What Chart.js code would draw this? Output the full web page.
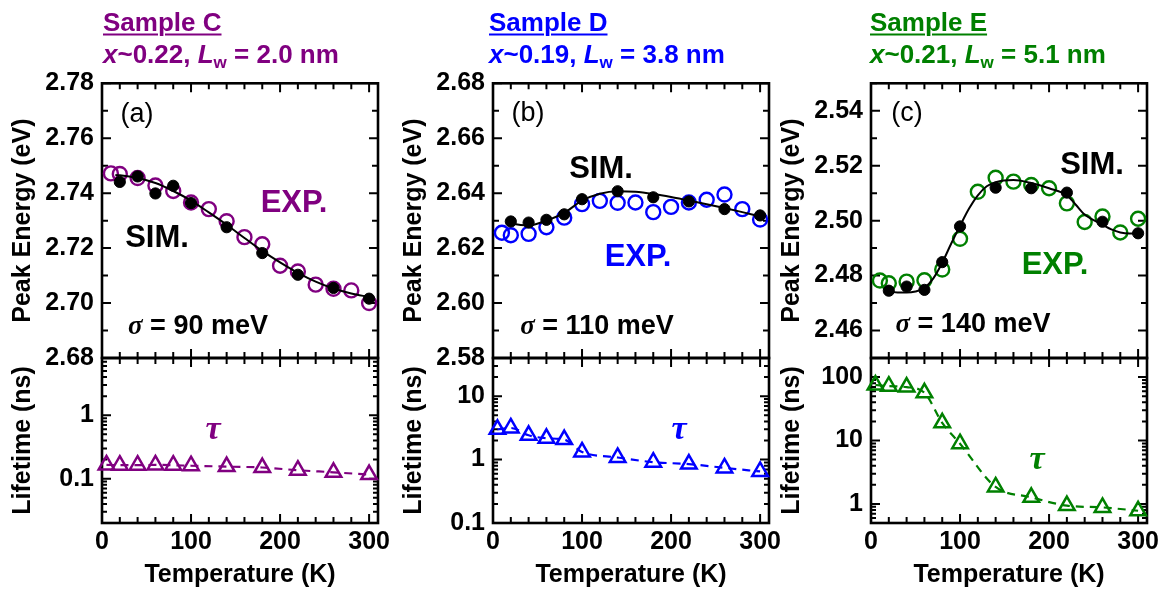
<!DOCTYPE html>
<html>
<head>
<meta charset="utf-8">
<script src="https://cdn.jsdelivr.net/npm/chart.js@4.4.1/dist/chart.umd.min.js"></script>
<style>
  html, body { margin: 0; padding: 0; background: #fff; overflow: hidden; }
  #fig { position: relative; width: 1167px; height: 593px; overflow: hidden; background: #fff; }
  #fig canvas { position: absolute; top: 0; }
  .ttl { position: absolute; transform: translateY(-50%); white-space: nowrap; line-height: 1;
         font: bold 26px "Liberation Sans", Arial, sans-serif; }
  .ttl.u { text-decoration: underline; text-decoration-thickness: 2px; text-underline-offset: 3px; }
  .ttl sub { font-size: 17px; vertical-align: -5px; font-style: normal; line-height: 0; }
  .lbl { position: absolute; transform: translate(-50%, -50%); white-space: nowrap; line-height: 1;
         font-family: "Liberation Sans", Arial, sans-serif; }
  .pan { font-size: 27px; font-weight: normal; color: #000; }
  .big { font-size: 31px; font-weight: bold; }
  .sig { font-size: 27px; font-weight: bold; color: #000; }
  .greek { font-family: "Liberation Serif", "DejaVu Serif", serif; font-style: italic; font-weight: bold; }
  .tau { font-family: "Liberation Serif", "DejaVu Serif", serif; font-style: italic; font-weight: bold; font-size: 34px; }
</style>
</head>
<body>
<div id="fig">
  <canvas id="topC" width="410" height="593"></canvas>
  <canvas id="botC" width="410" height="593"></canvas>
  <canvas id="topD" width="410" height="593"></canvas>
  <canvas id="botD" width="410" height="593"></canvas>
  <canvas id="topE" width="410" height="593"></canvas>
  <canvas id="botE" width="410" height="593"></canvas>

  <!-- sample headers -->
  <div class="ttl u" style="left:103px;top:22px;color:#800080">Sample C</div>
  <div class="ttl" style="left:103px;top:54px;color:#800080"><i>x</i>~0.22, <i>L</i><sub>w</sub> = 2.0 nm</div>
  <div class="ttl u" style="left:489px;top:22px;color:#0000ff">Sample D</div>
  <div class="ttl" style="left:489px;top:54px;color:#0000ff"><i>x</i>~0.19, <i>L</i><sub>w</sub> = 3.8 nm</div>
  <div class="ttl u" style="left:870px;top:22px;color:#008000">Sample E</div>
  <div class="ttl" style="left:870px;top:54px;color:#008000"><i>x</i>~0.21, <i>L</i><sub>w</sub> = 5.1 nm</div>

  <!-- panel (a) annotations -->
  <div class="lbl pan" style="left:137px;top:113px">(a)</div>
  <div class="lbl big" style="left:157px;top:236px;color:#000">SIM.</div>
  <div class="lbl big" style="left:294px;top:201px;color:#800080">EXP.</div>
  <div class="lbl sig" style="left:198px;top:325px"><span class="greek">σ</span> = 90 meV</div>
  <div class="lbl tau" style="left:213px;top:428px;color:#800080">τ</div>

  <!-- panel (b) annotations -->
  <div class="lbl pan" style="left:528px;top:112px">(b)</div>
  <div class="lbl big" style="left:601px;top:167px;color:#000">SIM.</div>
  <div class="lbl big" style="left:638px;top:255px;color:#0000ff">EXP.</div>
  <div class="lbl sig" style="left:597px;top:325px"><span class="greek">σ</span> = 110 meV</div>
  <div class="lbl tau" style="left:679px;top:428px;color:#0000ff">τ</div>

  <!-- panel (c) annotations -->
  <div class="lbl pan" style="left:907px;top:112px">(c)</div>
  <div class="lbl big" style="left:1092px;top:163px;color:#000">SIM.</div>
  <div class="lbl big" style="left:1055px;top:263px;color:#008000">EXP.</div>
  <div class="lbl sig" style="left:973px;top:323px"><span class="greek">σ</span> = 140 meV</div>
  <div class="lbl tau" style="left:1037px;top:458px;color:#008000">τ</div>
</div>

<script>
// ---- temperatures (K) ----
const tempExp  = [10, 20, 40, 60, 80, 100, 120, 140, 160, 180, 200, 220, 240, 260, 280, 300];
const tempSim  = [20, 40, 60, 80, 100, 140, 180, 220, 260, 300];
const tempLife = [5, 20, 40, 60, 80, 100, 140, 180, 220, 260, 300];
const tempFitCD = [15, 20, 40, 60, 80, 100, 120, 140, 160, 180, 200, 220, 240, 260, 280, 300];
const tempFitE  = [15, 20, 30, 40, 50, 60, 70, 80, 90, 100, 110, 120, 130, 140, 160, 180, 200, 220, 230, 240, 250, 260, 270, 280, 290, 300];

// ---- sample C: peak energy (eV) and lifetime (ns) ----
const expC  = [2.7472, 2.7470, 2.7455, 2.7428, 2.7408, 2.7366, 2.7342, 2.7298, 2.7240, 2.7214, 2.7136, 2.7115, 2.7067, 2.7052, 2.7046, 2.7000];
const simC  = [2.7441, 2.7461, 2.7399, 2.7427, 2.7364, 2.7276, 2.7182, 2.7103, 2.7055, 2.7016];
const fitC  = [2.7466, 2.7465, 2.7455, 2.7437, 2.7408, 2.7373, 2.7330, 2.7285, 2.7237, 2.7190, 2.7148, 2.7110, 2.7078, 2.7053, 2.7035, 2.7022];
const lifeC = [0.165, 0.163, 0.163, 0.165, 0.163, 0.160, 0.155, 0.150, 0.136, 0.126, 0.116];

// ---- sample D ----
const expD  = [2.6256, 2.6247, 2.6252, 2.6276, 2.6311, 2.6360, 2.6372, 2.6365, 2.6366, 2.6331, 2.6350, 2.6366, 2.6376, 2.6395, 2.6342, 2.6304];
const simD  = [2.6297, 2.6293, 2.6303, 2.6323, 2.6378, 2.6407, 2.6385, 2.6370, 2.6342, 2.6319];
const fitD  = [2.6294, 2.6290, 2.6283, 2.6300, 2.6328, 2.6373, 2.6398, 2.6407, 2.6405, 2.6397, 2.6386, 2.6373, 2.6360, 2.6346, 2.6331, 2.6315];
const lifeD = [3.0, 3.15, 2.42, 2.17, 2.07, 1.32, 1.08, 0.91, 0.85, 0.74, 0.65];

// ---- sample E ----
const expE  = [2.4782, 2.4772, 2.4778, 2.4783, 2.4822, 2.4934, 2.5105, 2.5156, 2.5142, 2.5130, 2.5118, 2.5063, 2.4995, 2.5015, 2.4957, 2.5007];
const simE  = [2.4745, 2.4760, 2.4748, 2.4849, 2.4979, 2.5120, 2.5118, 2.5102, 2.4996, 2.4954];
const fitE  = [2.4755, 2.4745, 2.4738, 2.4738, 2.4742, 2.4755, 2.4790, 2.4847, 2.4916, 2.4981, 2.5043, 2.5092, 2.5125, 2.5140, 2.5148, 2.5137, 2.5118, 2.5092, 2.5058, 2.5022, 2.5002, 2.4985, 2.4968, 2.4957, 2.4953, 2.4955];
const lifeE = [75, 72, 69.5, 56.6, 19, 8.9, 1.85, 1.27, 0.94, 0.88, 0.78];

// ---- tick labels ----
const tempTicks = [0, 100, 200, 300];
const energyTicksC = [2.68, 2.70, 2.72, 2.74, 2.76, 2.78];
const energyTicksD = [2.58, 2.60, 2.62, 2.64, 2.66, 2.68];
const energyTicksE = [2.46, 2.48, 2.50, 2.52, 2.54];
const lifeTicksC = [0.1, 1];
const lifeTicksD = [0.1, 1, 10];
const lifeTicksE = [1, 10, 100];

// ---- layout ----
const CANVAS_W = 410, CANVAS_H = 593;
const AXIS_W = 100, PLOT_W = 276, XAXIS_H = 70;
const Y_TOP = 83.3, Y_MID = 358, Y_BOT = 523;
const FONT = '"Liberation Sans", Arial, sans-serif';
const tickFont = { family: FONT, size: 25, weight: 'bold', lineHeight: 1.2 };

const pts = (xs, ys) => xs.map((x, i) => ({ x, y: ys[i] }));

// Frame and inward tick marks, placed through the chart's own scales
const frameTicks = {
  id: 'frameTicks',
  beforeDatasetsDraw(chart, args, opts) {
    const { ctx, chartArea: a, scales: { x, y } } = chart;
    ctx.save();
    ctx.strokeStyle = '#000';
    ctx.lineWidth = 2;
    ctx.beginPath();
    for (let t = 0; t <= 300; t += 20) {
      const px = x.getPixelForValue(t);
      const len = t % 100 === 0 ? 9 : 6;
      ctx.moveTo(px, a.top); ctx.lineTo(px, a.top + len);
      ctx.moveTo(px, a.bottom); ctx.lineTo(px, a.bottom - len);
    }
    opts.yMarks.forEach(([v, len]) => {
      const py = y.getPixelForValue(v);
      ctx.moveTo(a.left, py); ctx.lineTo(a.left + len, py);
      ctx.moveTo(a.right, py); ctx.lineTo(a.right - len, py);
    });
    ctx.stroke();
    ctx.lineWidth = 2.6;
    ctx.strokeRect(a.left, a.top, a.right - a.left, a.bottom - a.top);
    ctx.restore();
  }
};

function linearMarks(min, max, labels) {
  const out = [];
  const n = Math.round((max - min) / 0.01);
  for (let k = 0; k <= n; k++) {
    const v = min + k * 0.01;
    const major = labels.some(l => Math.abs(l - v) < 1e-6);
    out.push([v, major ? 9 : 6]);
  }
  return out;
}
function logMarks(min, max) {
  const out = [];
  for (let d = Math.floor(Math.log10(min)); d <= Math.ceil(Math.log10(max)); d++) {
    for (let m = 1; m <= 9; m++) {
      const v = m * Math.pow(10, d);
      if (v >= min * 0.999 && v <= max * 1.001) out.push([v, m === 1 ? 9 : 5]);
    }
  }
  return out;
}

const baseOptions = () => ({
  responsive: false, animation: false, devicePixelRatio: 1, events: [],
  plugins: { legend: { display: false }, tooltip: { enabled: false } }
});

function yAxis(type, min, max, labels, title, fmt) {
  return {
    type, min, max, position: 'left',
    grid: { display: false, drawTicks: false }, border: { display: false },
    afterFit(s) { s.width = AXIS_W; },
    afterBuildTicks(s) { s.ticks = labels.map(v => ({ value: v })); },
    ticks: { padding: 8, color: '#000', font: tickFont, callback: fmt },
    title: { display: true, text: title, color: '#000', font: tickFont, padding: { top: 6.5, bottom: 0 } }
  };
}

function topChart(id, color, exp, sim, fitT, fit, eMin, eMax, eTicks) {
  const opts = baseOptions();
  opts.layout = { autoPadding: false, padding: { left: 0, right: CANVAS_W - AXIS_W - PLOT_W, top: Y_TOP, bottom: CANVAS_H - Y_MID } };
  opts.plugins.frameTicks = { yMarks: linearMarks(eMin, eMax, eTicks) };
  opts.scales = {
    x: { type: 'linear', display: false, min: 0, max: 310 },
    y: yAxis('linear', eMin, eMax, eTicks, 'Peak Energy (eV)', v => v.toFixed(2))
  };
  return new Chart(document.getElementById(id), {
    type: 'line',
    data: { datasets: [
      { label: 'SIM.', data: pts(tempSim, sim), showLine: false, order: 0, clip: false,
        pointRadius: 5.6, pointBorderWidth: 1, pointBackgroundColor: '#000', pointBorderColor: '#000' },
      { label: 'fit', data: pts(fitT, fit), order: 1, clip: false, borderColor: '#000', borderWidth: 2,
        pointRadius: 0, cubicInterpolationMode: 'monotone', fill: false },
      { label: 'EXP.', data: pts(tempExp, exp), showLine: false, order: 2, clip: false,
        pointRadius: 7, pointBorderWidth: 2.4, pointBackgroundColor: 'rgba(0,0,0,0)', pointBorderColor: color }
    ] },
    options: opts,
    plugins: [frameTicks]
  });
}

function bottomChart(id, color, life, lMin, lMax, lTicks) {
  const opts = baseOptions();
  opts.layout = { autoPadding: false, padding: { left: 0, right: CANVAS_W - AXIS_W - PLOT_W, top: Y_MID, bottom: CANVAS_H - Y_BOT - XAXIS_H } };
  opts.plugins.frameTicks = { yMarks: logMarks(lMin, lMax) };
  opts.scales = {
    x: {
      type: 'linear', min: 0, max: 310, position: 'bottom',
      grid: { display: false, drawTicks: false }, border: { display: false },
      afterFit(s) { s.height = XAXIS_H; },
      afterBuildTicks(s) { s.ticks = tempTicks.map(v => ({ value: v })); },
      ticks: { padding: 3.7, color: '#000', font: tickFont, maxRotation: 0, callback: v => String(v) },
      title: { display: true, text: 'Temperature (K)', color: '#000', font: tickFont, padding: { top: 0, bottom: 3 } }
    },
    y: yAxis('logarithmic', lMin, lMax, lTicks, 'Lifetime (ns)', v => String(v))
  };
  return new Chart(document.getElementById(id), {
    type: 'line',
    data: { datasets: [
      { label: 'τ', data: pts(tempLife, life), clip: false, borderColor: color, borderWidth: 2.2,
        borderDash: [8, 6], cubicInterpolationMode: 'monotone', fill: false,
        pointStyle: 'triangle', pointRadius: 9, pointBorderWidth: 2.5,
        pointBackgroundColor: 'rgba(0,0,0,0)', pointBorderColor: color }
    ] },
    options: opts,
    plugins: [frameTicks]
  });
}

// place each column's canvases so the plot frames start where the axes end
const columnLeft = { C: 101.7, D: 493.3, E: 870.7 };
for (const k of ['C', 'D', 'E']) {
  for (const p of ['top', 'bot']) {
    document.getElementById(p + k).style.left = (columnLeft[k] - AXIS_W) + 'px';
  }
}

topChart('topC', '#800080', expC, simC, tempFitCD, fitC, 2.68, 2.78, energyTicksC);
topChart('topD', '#0000ff', expD, simD, tempFitCD, fitD, 2.58, 2.68, energyTicksD);
topChart('topE', '#008000', expE, simE, tempFitE, fitE, 2.45, 2.55, energyTicksE);
bottomChart('botC', '#800080', lifeC, 0.02, 8, lifeTicksC);
bottomChart('botD', '#0000ff', lifeD, 0.1, 40, lifeTicksD);
bottomChart('botE', '#008000', lifeE, 0.5, 200, lifeTicksE);
</script>
</body>
</html>
